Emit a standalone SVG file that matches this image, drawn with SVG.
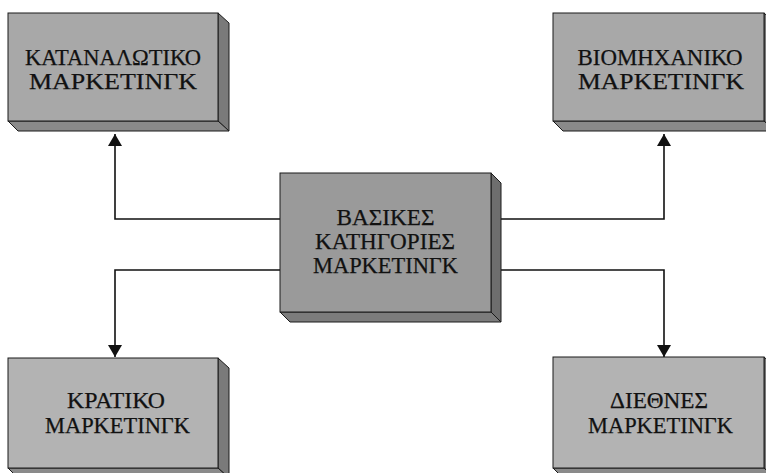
<svg xmlns="http://www.w3.org/2000/svg" width="766" height="473" viewBox="0 0 766 473">
<style>
  .front { fill: #a8a8a8; stroke: #1a1a1a; stroke-width: 1; }
  .front.light { fill: #b3b3b3; }
  .front.dark { fill: #9a9a9a; }
  .side { fill: #7a7a7a; stroke: #1a1a1a; stroke-width: 1; }
  .bottom { fill: #8a8a8a; stroke: #1a1a1a; stroke-width: 1; }
  .side.dark { fill: #6e6e6e; }
  .bottom.dark { fill: #7c7c7c; }
  .lbl { font-family: "Liberation Serif", "Times New Roman", serif; fill: #111; stroke: #111; stroke-width: 0.25; text-anchor: middle; }
  .conn { fill: none; stroke: #111; stroke-width: 1.6; }
</style>
<defs>
  <marker id="arrow" markerUnits="userSpaceOnUse" markerWidth="14" markerHeight="14" refX="12" refY="7" orient="auto">
    <path d="M0,0 L12,7 L0,14 Z" fill="#111"/>
  </marker>
</defs>
<rect width="766" height="473" fill="#ffffff"/>

<g id="connectors">
  <polyline class="conn" points="281,219 115,219 115,134" marker-end="url(#arrow)"/>
  <polyline class="conn" points="281,270 115,270 115,357" marker-end="url(#arrow)"/>
  <polyline class="conn" points="500,219 664,219 664,134" marker-end="url(#arrow)"/>
  <polyline class="conn" points="500,270 664,270 664,357" marker-end="url(#arrow)"/>
</g>

<g id="node-consumer">
  <polygon class="side" points="218,13 229,23 229,131 218,121"/>
  <polygon class="bottom" points="8,121 218,121 229,131 18,131"/>
  <rect class="front" x="8" y="13" width="210" height="108"/>
  <text class="lbl" font-size="24" x="113" y="65" textLength="176" lengthAdjust="spacingAndGlyphs">ΚΑΤΑΝΑΛΩΤΙΚΟ</text>
  <text class="lbl" font-size="24" x="113" y="89" textLength="168" lengthAdjust="spacingAndGlyphs">ΜΑΡΚΕΤΙΝΓΚ</text>
</g>

<g id="node-industrial">
  <polygon class="side" points="764,13 775,23 775,131 764,121"/>
  <polygon class="bottom" points="553,121 764,121 775,131 563,131"/>
  <rect class="front" x="553" y="13" width="211" height="108"/>
  <text class="lbl" font-size="24" x="660" y="65" textLength="165" lengthAdjust="spacingAndGlyphs">ΒΙΟΜΗΧΑΝΙΚΟ</text>
  <text class="lbl" font-size="24" x="661" y="89" textLength="166" lengthAdjust="spacingAndGlyphs">ΜΑΡΚΕΤΙΝΓΚ</text>
</g>

<g id="node-center">
  <polygon class="side dark" points="491,173 501,183 501,322 491,312"/>
  <polygon class="bottom dark" points="280,312 491,312 501,322 290,322"/>
  <rect class="front dark" x="280" y="173" width="211" height="139"/>
  <text class="lbl" font-size="23" x="385.5" y="225" textLength="98" lengthAdjust="spacingAndGlyphs">ΒΑΣΙΚΕΣ</text>
  <text class="lbl" font-size="23" x="385" y="249" textLength="140" lengthAdjust="spacingAndGlyphs">ΚΑΤΗΓΟΡΙΕΣ</text>
  <text class="lbl" font-size="23" x="385.5" y="273" textLength="145" lengthAdjust="spacingAndGlyphs">ΜΑΡΚΕΤΙΝΓΚ</text>
</g>

<g id="node-state">
  <polygon class="side" points="218,358 229,368 229,478 218,468"/>
  <polygon class="bottom" points="8,468 218,468 229,478 18,478"/>
  <rect class="front light" x="8" y="358" width="210" height="110"/>
  <text class="lbl" font-size="23" x="116" y="408" textLength="98" lengthAdjust="spacingAndGlyphs">ΚΡΑΤΙΚΟ</text>
  <text class="lbl" font-size="23" x="117.5" y="433" textLength="145" lengthAdjust="spacingAndGlyphs">ΜΑΡΚΕΤΙΝΓΚ</text>
</g>

<g id="node-international">
  <polygon class="side" points="764,357 775,367 775,478 764,468"/>
  <polygon class="bottom" points="553,468 764,468 775,478 563,478"/>
  <rect class="front light" x="553" y="357" width="211" height="111"/>
  <text class="lbl" font-size="23" x="659" y="408" textLength="98" lengthAdjust="spacingAndGlyphs">ΔΙΕΘΝΕΣ</text>
  <text class="lbl" font-size="23" x="660.5" y="433" textLength="145" lengthAdjust="spacingAndGlyphs">ΜΑΡΚΕΤΙΝΓΚ</text>
</g>
</svg>
